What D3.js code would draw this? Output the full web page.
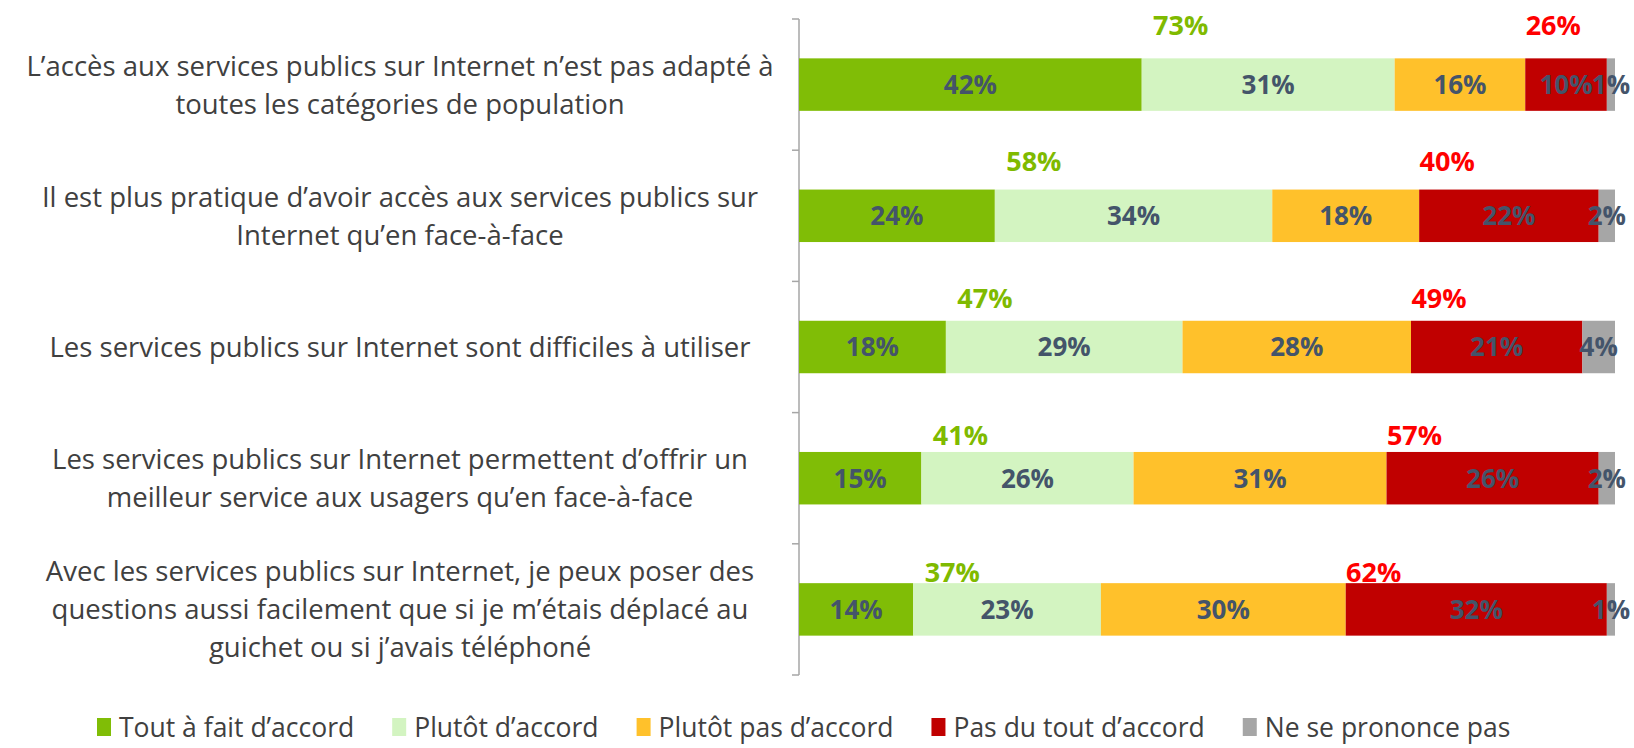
<!DOCTYPE html>
<html>
<head>
<meta charset="utf-8">
<script src="https://cdn.jsdelivr.net/npm/d3@7"></script>
<style>
  body { margin: 0; background: #fff; }
  svg text { font-family: 'Open Sans', sans-serif; }
</style>
</head>
<body>
<div id="chart"></div>
<script>
const categories = [
    ['L’accès aux services publics sur Internet n’est pas adapté à', 'toutes les catégories de population'],
    ['Il est plus pratique d’avoir accès aux services publics sur', 'Internet qu’en face-à-face'],
    ['Les services publics sur Internet sont difficiles à utiliser'],
    ['Les services publics sur Internet permettent d’offrir un', 'meilleur service aux usagers qu’en face-à-face'],
    ['Avec les services publics sur Internet, je peux poser des', 'questions aussi facilement que si je m’étais déplacé au', 'guichet ou si j’avais téléphoné']
];
const seriesNames = ['Tout à fait d’accord', 'Plutôt d’accord', 'Plutôt pas d’accord', 'Pas du tout d’accord', 'Ne se prononce pas'];
const toutAFait = [42, 24, 18, 15, 14];
const plutot = [31, 34, 29, 26, 23];
const plutotPas = [16, 18, 28, 31, 30];
const pasDuTout = [10, 22, 21, 26, 32];
const nsp = [1, 2, 4, 2, 1];
const colors = ['#80bd06', '#d3f4c1', '#ffc12b', '#c00000', '#a6a6a6'];

const chartWidth = 1634;
const chartHeight = 748;

const series = [toutAFait, plutot, plutotPas, pasDuTout, nsp];
const rows = categories.map((c, i) => ({
    id: i,
    lines: c,
    values: series.map(s => s[i])
}));

const xScale = d3.scaleLinear().domain([0, 100]).range([799, 1615]);
const yScale = d3.scaleBand()
    .domain(rows.map(d => d.id))
    .range([19, 675])
    .paddingInner(0.6)
    .paddingOuter(0.3);
// totals sit on a slightly different grid than the bars
const yTotals = d3.scalePoint().domain(rows.map(d => d.id)).range([25, 572]);

const svg = d3.select('#chart')
    .append('svg')
    .attr('width', chartWidth)
    .attr('height', chartHeight);

// axis line with boundary ticks
const step = yScale.step();
const bounds = rows.map(d => yScale(d.id) - step * 0.3).concat([yScale(rows[rows.length - 1].id) + yScale.bandwidth() + step * 0.3]);
svg.append('line')
    .attr('x1', xScale(0)).attr('x2', xScale(0))
    .attr('y1', bounds[0]).attr('y2', bounds[bounds.length - 1])
    .attr('stroke', '#a6a6a6').attr('stroke-width', 1.5);
svg.selectAll('line.tick')
    .data(bounds)
    .enter()
    .append('line')
    .attr('class', 'tick')
    .attr('x1', xScale(0) - 7).attr('x2', xScale(0))
    .attr('y1', d => d).attr('y2', d => d)
    .attr('stroke', '#a6a6a6').attr('stroke-width', 1.5);

// stacked segments
const segs = [];
rows.forEach(r => {
    let acc = 0;
    r.values.forEach((v, k) => {
        segs.push({row: r.id, k: k, x0: acc, x1: acc + v, v: v});
        acc += v;
    });
});

svg.selectAll('rect.seg')
    .data(segs)
    .enter()
    .append('rect')
    .attr('class', 'seg')
    .attr('x', d => xScale(d.x0))
    .attr('y', d => yScale(d.row))
    .attr('width', d => xScale(d.x1) - xScale(d.x0))
    .attr('height', yScale.bandwidth())
    .attr('fill', d => colors[d.k]);

svg.selectAll('text.seg')
    .data(segs)
    .enter()
    .append('text')
    .attr('class', 'seg')
    .attr('x', d => (xScale(d.x0) + xScale(d.x1)) / 2)
    .attr('y', d => yScale(d.row) + yScale.bandwidth() / 2)
    .attr('dy', '0.36em')
    .attr('text-anchor', 'middle')
    .attr('font-size', 26)
    .attr('font-weight', 'bold')
    .attr('fill', '#44546a')
    .text(d => d.v + '%');

// totals above bars
svg.selectAll('text.agree')
    .data(rows)
    .enter()
    .append('text')
    .attr('class', 'agree')
    .attr('x', d => xScale(d.values[0]) + 39)
    .attr('y', d => yTotals(d.id))
    .attr('dy', '0.36em')
    .attr('text-anchor', 'middle')
    .attr('font-size', 27)
    .attr('font-weight', 'bold')
    .attr('fill', '#7fba00')
    .text(d => (d.values[0] + d.values[1]) + '%');

svg.selectAll('text.disagree')
    .data(rows)
    .enter()
    .append('text')
    .attr('class', 'disagree')
    .attr('x', d => xScale(d.values[0] + d.values[1] + d.values[2]) + 28)
    .attr('y', d => yTotals(d.id))
    .attr('dy', '0.36em')
    .attr('text-anchor', 'middle')
    .attr('font-size', 27)
    .attr('font-weight', 'bold')
    .attr('fill', '#ff0000')
    .text(d => (d.values[2] + d.values[3]) + '%');

// category labels
const lineH = 38;
const cat = svg.selectAll('text.cat')
    .data(rows)
    .enter()
    .append('text')
    .attr('class', 'cat')
    .attr('text-anchor', 'middle')
    .attr('font-size', 27.5)
    .attr('fill', '#404040');
cat.selectAll('tspan')
    .data(d => d.lines.map((l, i) => ({l: l, i: i, n: d.lines.length, row: d.id})))
    .enter()
    .append('tspan')
    .attr('x', 400)
    .attr('y', d => yScale(d.row) + yScale.bandwidth() / 2 + (d.i - (d.n - 1) / 2) * lineH)
    .attr('dy', '0.36em')
    .text(d => d.l);

// legend
const legend = svg.append('g').attr('transform', 'translate(97,727)');
let lx = 0;
seriesNames.forEach((name, k) => {
    const g = legend.append('g').attr('transform', `translate(${lx},0)`);
    g.append('rect')
        .attr('x', 0).attr('y', -9)
        .attr('width', 14).attr('height', 18)
        .attr('fill', colors[k]);
    const t = g.append('text')
        .attr('x', 22)
        .attr('dy', '0.36em')
        .attr('font-size', 26.5)
        .attr('fill', '#404040')
        .text(name);
    lx += 22 + t.node().getComputedTextLength() + 38;
});
</script>
</body>
</html>
